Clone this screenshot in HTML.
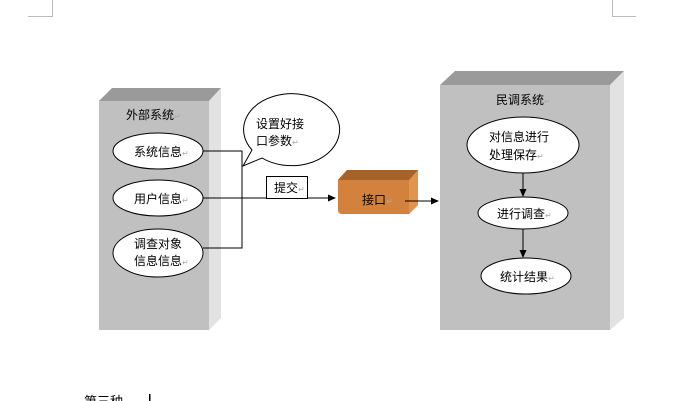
<!DOCTYPE html>
<html><head><meta charset="utf-8"><style>
html,body{margin:0;padding:0;background:#fff;width:688px;height:401px;overflow:hidden}
svg{display:block}
text{font-family:"Liberation Sans","Noto Sans CJK SC",sans-serif;font-size:12px;fill:#000}
.r{fill:#aaa;font-size:8px}
</style></head><body>
<svg width="688" height="401" viewBox="0 0 688 401">
<defs><marker id="a" markerWidth="8" markerHeight="8" refX="7" refY="4" orient="auto" markerUnits="userSpaceOnUse"><path d="M0,0.5 L8,4 L0,7.5z" fill="#000"/></marker></defs>
<!-- corner marks -->
<path d="M28,16.5 H52.5 V0" stroke="#bbb" fill="none"/>
<path d="M612.5,0 V16.5 H636" stroke="#bbb" fill="none"/>
<!-- left box -->
<polygon points="99,101 112,88 221,88 209,101" fill="#9a9a9a"/>
<polygon points="209,101 221,88 221,318 209,330" fill="#e2e2e2"/>
<rect x="99" y="101" width="110" height="229" fill="#c0c0c0"/>
<text x="126" y="119">外部系统<tspan class="r">↵</tspan></text>
<ellipse cx="158" cy="151" rx="45" ry="18" fill="#fff" stroke="#000"/>
<text x="134" y="156">系统信息<tspan class="r">↵</tspan></text>
<ellipse cx="158" cy="198" rx="45" ry="18" fill="#fff" stroke="#000"/>
<text x="134" y="203">用户信息<tspan class="r">↵</tspan></text>
<ellipse cx="158" cy="253" rx="45" ry="24" fill="#fff" stroke="#000"/>
<text x="134" y="248">调查对象</text>
<text x="134" y="265">信息信息<tspan class="r">↵</tspan></text>
<!-- connectors -->
<path d="M203,151 H242 V248 H203" stroke="#000" fill="none"/>
<path d="M203,198 H335" stroke="#000" fill="none" marker-end="url(#a)"/>
<!-- bubble -->
<path d="M243,166 L252,150 A48,36 0 1 1 262,158 Z" fill="#fff" stroke="#000"/>
<text x="256" y="128">设置好接</text>
<text x="256" y="145">口参数<tspan class="r">↵</tspan></text>
<!-- 提交 -->
<rect x="266.5" y="176.5" width="41" height="22" fill="#fff" stroke="#000"/>
<text x="274" y="192">提交<tspan class="r">↵</tspan></text>
<!-- interface block -->
<path d="M338,180 L347,170 H418 V205 L409,214 H342 Q338,214 338,210Z" fill="#d2823c"/>
<path d="M338,180 L347,170 H418 L409,180Z" fill="#a5622a"/>
<path d="M409,180 L418,170 V205 L409,214Z" fill="#e0944e"/>
<text x="362" y="204">接口<tspan class="r">↵</tspan></text>
<path d="M405,201 H438" stroke="#000" marker-end="url(#a)"/>
<!-- right box -->
<polygon points="440,85 455,71 624,71 610,85" fill="#9a9a9a"/>
<polygon points="610,85 624,71 624,318 610,330" fill="#e2e2e2"/>
<rect x="440" y="85" width="170" height="245" fill="#c0c0c0"/>
<text x="496" y="104">民调系统<tspan class="r">↵</tspan></text>
<ellipse cx="523" cy="145" rx="56" ry="28" fill="#fff" stroke="#000"/>
<text x="489" y="141">对信息进行</text>
<text x="489" y="159">处理保存<tspan class="r">↵</tspan></text>
<path d="M523,173 V196" stroke="#000" marker-end="url(#a)"/>
<ellipse cx="523" cy="213" rx="45" ry="16" fill="#fff" stroke="#000"/>
<text x="497" y="218">进行调查<tspan class="r">↵</tspan></text>
<path d="M523,229 V257" stroke="#000" marker-end="url(#a)"/>
<ellipse cx="526" cy="276" rx="45" ry="18" fill="#fff" stroke="#000"/>
<text x="500" y="281">统计结果<tspan class="r">↵</tspan></text>
<!-- bottom -->
<text x="84" y="406" style="font-size:13px">第三种</text>
<rect x="149" y="394" width="1.5" height="7" fill="#000"/>
</svg>
</body></html>
